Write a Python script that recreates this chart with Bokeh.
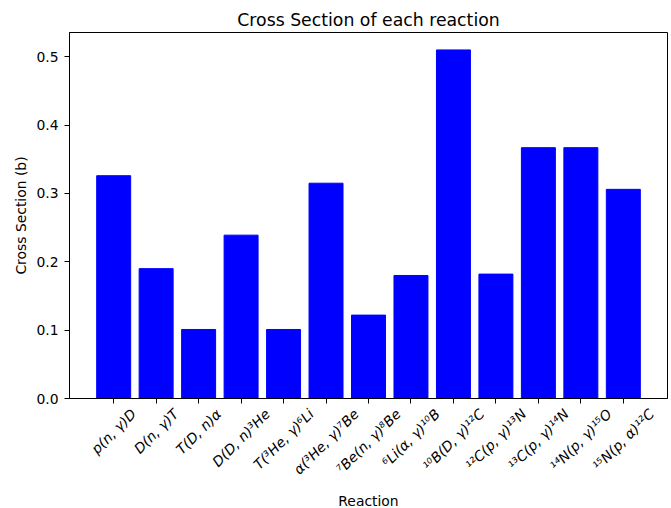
import math

from bokeh.plotting import figure
from bokeh.layouts import column
from bokeh.models import Range1d, FixedTicker, PrintfTickFormatter
from bokeh.core.properties import value
from bokeh.embed import file_html
from bokeh.resources import INLINE

# Reaction names (tick labels) and their cross sections in barns
reactions = [
    "p(n, γ)D",
    "D(n, γ)T",
    "T(D, n)α",
    "D(D, n)³He",
    "T(³He, γ)⁶Li",
    "α(³He, γ)⁷Be",
    "⁷Be(n, γ)⁸Be",
    "⁶Li(α, γ)¹⁰B",
    "¹⁰B(D, γ)¹²C",
    "¹²C(p, γ)¹³N",
    "¹³C(p, γ)¹⁴N",
    "¹⁴N(p, γ)¹⁵O",
    "¹⁵N(p, α)¹²C",
]
cross_sections = [0.326, 0.190, 0.101, 0.239, 0.101, 0.315, 0.122,
                  0.180, 0.510, 0.182, 0.367, 0.367, 0.306]
y_ticks = [0.0, 0.1, 0.2, 0.3, 0.4, 0.5]

FONT = "DejaVu Sans"
TICK_PX = 13.9
WIDTH, HEIGHT = 671, 508
MAIN_H = 406          # plot area plus the tick marks below it
STRIP_H = HEIGHT - MAIN_H
STRIP_TOP = MAIN_H + 5   # where the strip's first pixel row lands on the page

# approximate DejaVu Sans advance widths (em), used to centre the rotated
# tick labels under their ticks
_ADV = {
    " ": 0.318, "(": 0.390, ")": 0.390, ",": 0.318,
    "p": 0.635, "n": 0.634, "e": 0.615, "i": 0.278,
    "D": 0.770, "T": 0.611, "H": 0.752, "L": 0.557, "B": 0.686,
    "C": 0.698, "N": 0.748, "O": 0.787, "γ": 0.592, "α": 0.659,
}


def text_width(s, size):
    return size * sum(_ADV.get(ch, 0.401) for ch in s)


positions = list(range(len(reactions)))
bar_width = 0.8
pad_x = 0.05 * (len(reactions) - 1 + bar_width)
y_top = max(cross_sections) * 1.05
x_range = Range1d(-bar_width / 2 - pad_x, len(reactions) - 1 + bar_width / 2 + pad_x)

# ---- main bar chart -------------------------------------------------------
p = figure(
    width=WIDTH, height=MAIN_H,
    output_backend="svg", toolbar_location=None,
    x_range=x_range, y_range=Range1d(0, y_top),
    title="Cross Section of each reaction",
    y_axis_label="Cross Section (b)",
    min_border_left=69, min_border_right=4,
    min_border_top=32, min_border_bottom=MAIN_H - 398,
)

p.vbar(x=positions, top=cross_sections, width=bar_width,
       fill_color="#0000ff", line_color="#0000ff")

p.grid.visible = False
p.outline_line_color = "black"
p.outline_line_width = 1
p.background_fill_color = "white"
p.border_fill_color = "white"

p.title.align = "center"
p.title.text_font = FONT
p.title.text_font_size = "17.3px"
p.title.text_font_style = "normal"
p.title.text_color = "black"
p.title.standoff = 6

for ax in (p.xaxis[0], p.yaxis[0]):
    ax.axis_line_color = "black"
    ax.axis_line_width = 1
    ax.major_tick_line_color = "black"
    ax.major_tick_in = 0
    ax.major_tick_out = 5
    ax.minor_tick_line_color = None
    ax.major_label_text_font = FONT
    ax.major_label_text_font_size = f"{TICK_PX}px"
    ax.major_label_text_color = "black"
    ax.major_label_standoff = 6
    ax.axis_label_text_font = FONT
    ax.axis_label_text_font_size = "13.9px"
    ax.axis_label_text_font_style = "normal"
    ax.axis_label_text_color = "black"

# x axis keeps only its ticks; the reaction names go in the strip below
p.xaxis.ticker = FixedTicker(ticks=positions)
p.xaxis.major_label_overrides = {i: "" for i in positions}
p.xaxis.major_label_text_font_size = "0px"
p.xaxis.major_label_standoff = 0

p.yaxis.ticker = FixedTicker(ticks=y_ticks)
p.yaxis.formatter = PrintfTickFormatter(format="%.1f")
p.yaxis.axis_label_standoff = 4

# ---- strip with rotated reaction names and the x axis title ---------------
# y in this strip counts pixels downward from its top edge
strip = figure(
    width=WIDTH, height=STRIP_H,
    output_backend="svg", toolbar_location=None,
    x_range=x_range, y_range=Range1d(STRIP_H, 0),
    x_axis_location=None, y_axis_location=None,
    min_border_left=69, min_border_right=4,
    min_border_top=0, min_border_bottom=0,
)
strip.grid.visible = False
strip.outline_line_color = None
strip.background_fill_color = "white"
strip.border_fill_color = "white"

# centre of each rotated name: below the tick by half its rotated extent
label_y = [398 - STRIP_TOP + 13.0 + 0.354 * (text_width(s, TICK_PX) + TICK_PX)
           for s in reactions]
strip.text(x=positions, y=label_y, text=reactions, angle=math.pi / 4,
           text_align="center", text_baseline="middle",
           text_font=value(FONT), text_font_size=value(f"{TICK_PX}px"),
           text_font_style="italic", text_color="black")

strip.text(x=[(x_range.start + x_range.end) / 2], y=[505.5 - STRIP_TOP], text=["Reaction"],
           text_align="center", text_baseline="alphabetic",
           text_font=value(FONT), text_font_size=value("13.9px"),
           text_color="black")

layout = column(p, strip, spacing=0)
open("out.html", "w").write(file_html(layout, INLINE))
